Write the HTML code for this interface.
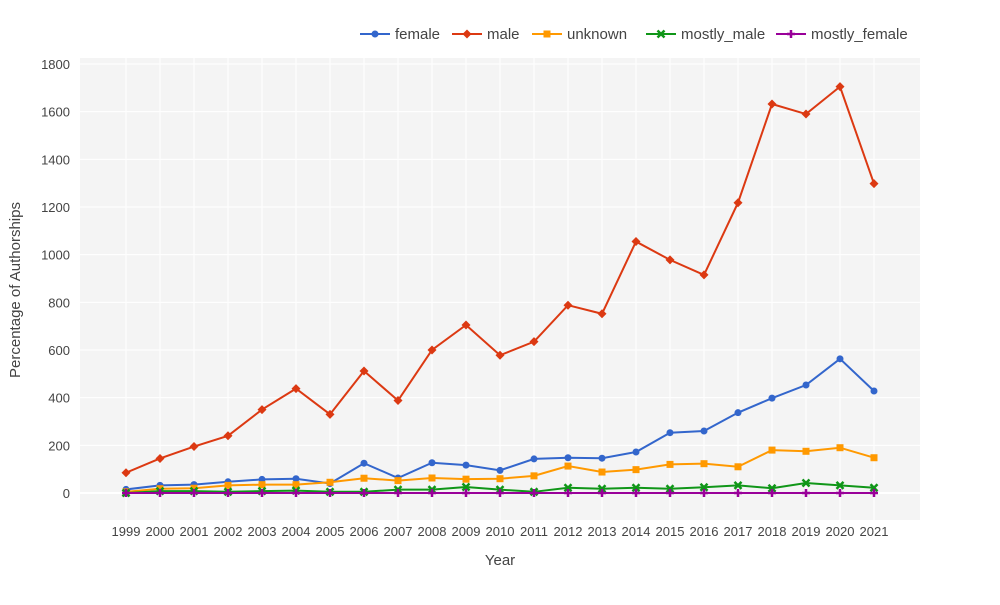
<!DOCTYPE html>
<html><head><meta charset="utf-8"><style>
body{margin:0;background:#fff;font-family:"Liberation Sans",Arial,sans-serif;}
svg text{font-family:"Liberation Sans",Arial,sans-serif;fill:#444;}
</style></head><body>
<svg id="chart" width="1000" height="600">
<rect x="80" y="58" width="840" height="462" fill="#f4f4f4"/>
<g id="grid"></g><g id="axes"></g><g id="series"></g><g id="legend"></g>
<text x="500" y="565" text-anchor="middle" font-size="15">Year</text>
<text transform="translate(20,290) rotate(-90)" text-anchor="middle" font-size="15">Percentage of Authorships</text>
</svg>
<script>
const years=[1999,2000,2001,2002,2003,2004,2005,2006,2007,2008,2009,2010,2011,2012,2013,2014,2015,2016,2017,2018,2019,2020,2021];
const female=[15,32,35,47,57,60,40,125,63,127,117,95,143,148,146,172,253,260,337,398,453,563,428];
const male=[85,145,195,240,350,438,330,512,388,600,705,578,635,788,752,1055,978,915,1218,1632,1590,1705,1298];
const unknown=[5,18,20,32,35,35,45,62,52,63,58,60,72,113,88,98,120,123,110,180,175,190,148];
const mostlyMale=[0,8,8,5,8,10,5,5,14,14,25,14,5,22,18,22,18,24,32,20,42,32,22];
const mostlyFemale=[0,0,0,0,0,0,0,0,0,0,0,0,0,0,0,0,0,0,0,0,0,0,0];
const yTicks=[0,200,400,600,800,1000,1200,1400,1600,1800];
const names=["female","male","unknown","mostly_male","mostly_female"];
const colors=["#3366cc","#dc3912","#ff9900","#109618","#990099"];
const shapes=["circle","diamond","square","x","cross"];
const NS="http://www.w3.org/2000/svg";
const X=i=>126+i*(874-126)/(years.length-1);
const Y=v=>493-v*(493-64)/1800;
function mk(t,a,p){const e=document.createElementNS(NS,t);for(const k in a)e.setAttribute(k,a[k]);p.appendChild(e);return e;}
const grid=document.getElementById('grid'),axes=document.getElementById('axes');
yTicks.forEach(v=>{
 const l=mk('line',{x1:80,x2:920,y1:Y(v),y2:Y(v),stroke:'#fff','stroke-width':v===0?2:1},grid);
 
 
 const t=mk('text',{x:70,y:Y(v)+5,'text-anchor':'end','font-size':13},axes);t.textContent=v;
 
 
});
years.forEach((y,i)=>{
 const l=mk('line',{x1:X(i),x2:X(i),y1:58,y2:520,stroke:'#fff','stroke-width':1},grid);
 
 
 const t=mk('text',{x:X(i),y:536,'text-anchor':'middle','font-size':13},axes);t.textContent=y;
 
 
});
function marker(shape,x,y,c,p){
 let e;
 if(shape==='circle')e=mk('circle',{cx:x,cy:y,r:3.5,fill:c},p);
 else if(shape==='diamond')e=mk('path',{d:`M${x},${y-4.5}L${x+4.5},${y}L${x},${y+4.5}L${x-4.5},${y}Z`,fill:c},p);
 else if(shape==='square')e=mk('rect',{x:x-3.5,y:y-3.5,width:7,height:7,fill:c},p);
 else if(shape==='x')e=mk('path',{d:`M${x-3.5},${y-3.5}L${x+3.5},${y+3.5}M${x+3.5},${y-3.5}L${x-3.5},${y+3.5}`,stroke:c,'stroke-width':2.5},p);
 else e=mk('path',{d:`M${x-4},${y}L${x+4},${y}M${x},${y-4}L${x},${y+4}`,stroke:c,'stroke-width':2.5},p);
 return e;
}
const data=[female,male,unknown,mostlyMale,mostlyFemale];
const sg=document.getElementById('series');
data.forEach((arr,s)=>{
 const g=mk('g',{},sg);
 
 
 const l=mk('polyline',{points:arr.map((v,i)=>X(i)+','+Y(v)).join(' '),fill:'none',stroke:colors[s],'stroke-width':2},g);
 
 
 arr.forEach((v,i)=>{const m=marker(shapes[s],X(i),Y(v),colors[s],g);
  
  });
});
const lg=document.getElementById('legend');
const lx=[360,452,532,646,776];
names.forEach((n,s)=>{
 const g=mk('g',{},lg);
 
 
 mk('line',{x1:lx[s],x2:lx[s]+30,y1:34,y2:34,stroke:colors[s],'stroke-width':2},g);
 marker(shapes[s],lx[s]+15,34,colors[s],g);
 const t=mk('text',{x:lx[s]+35,y:39,'font-size':15},g);t.textContent=n;
});
</script>
</body></html>
